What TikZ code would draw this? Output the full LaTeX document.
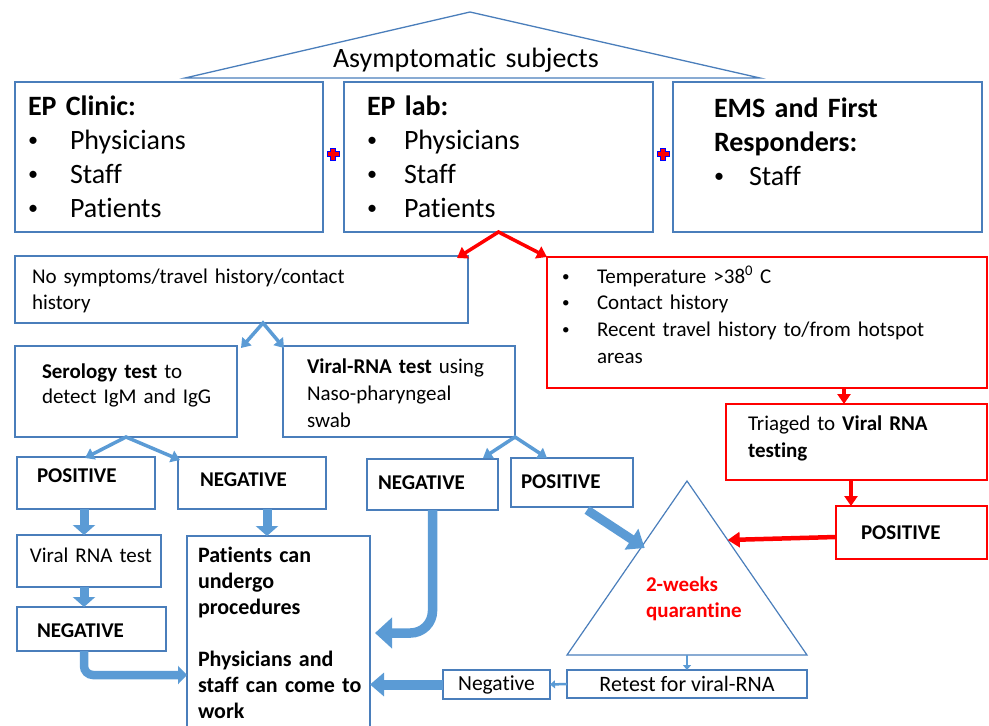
\documentclass[tikz,border=0pt]{standalone}
\usepackage{fontspec}
\setmainfont{Carlito}[Ligatures=NoCommon]
\usetikzlibrary{arrows.meta,calc}
\definecolor{boxblue}{RGB}{74,126,187}
\definecolor{arrblue}{RGB}{91,155,213}
\definecolor{myred}{RGB}{255,0,0}
\newcommand{\mybul}{\raisebox{0.09em}{\scalebox{0.72}{•}}}
\hyphenpenalty=10000
\exhyphenpenalty=10000
\begin{document}
\begin{tikzpicture}[x=1pt,y=-1pt,
  box/.style={draw=boxblue, line width=1.3pt, inner sep=0pt, outer sep=0pt, anchor=north west},
  rbox/.style={draw=myred, line width=1.3pt, inner sep=0pt, outer sep=0pt, anchor=north west},
  txt/.style={anchor=base west, inner sep=0pt, outer sep=0pt, align=left, text width=#1},
  txt/.default=440pt,
  big/.style={font=\fontsize{28}{34}\selectfont},
  mid/.style={font=\fontsize{21}{26.5}\selectfont},
  midb/.style={font=\fontsize{21}{26}\selectfont\bfseries},
  redarr/.style={draw=myred, line width=3.5pt, -{Triangle[width=13pt,length=10pt]}},
  bluearr/.style={draw=arrblue, line width=3.5pt},
  fatarr/.style={draw=arrblue, line width=9pt, -{Triangle[width=22pt,length=10pt]}},
  thinarr/.style={draw=arrblue, line width=2.5pt, -{Triangle[width=8pt,length=5pt]}}
]
\useasboundingbox (0,0) rectangle (989,726);

% ---------- top house ----------
\coordinate (hL) at (185,78);
\coordinate (hA) at (470,12);
\coordinate (hR) at (760,78);
\draw[boxblue, line width=1.3pt, line join=miter] (hL) -- (hA) -- (hR) -- cycle;
\node[txt, big] (asym) at (333,67) {Asymptomatic subjects};

% ---------- top boxes ----------
\node[box, minimum width=308pt, minimum height=150pt] (b1) at (15,82) {};
\node[box, minimum width=309pt, minimum height=150pt] (b2) at (344,82) {};
\node[box, minimum width=309pt, minimum height=150pt] (b3) at (673,82) {};

\node[txt, big] (t1) at (28,115) {\textbf{EP Clinic:}\\
  \makebox[42pt][l]{\mybul}Physicians\\
  \makebox[42pt][l]{\mybul}Staff\\
  \makebox[42pt][l]{\mybul}Patients};
\node[txt, big] (t2) at (367,115) {\textbf{EP lab:}\\
  \makebox[37pt][l]{\mybul}Physicians\\
  \makebox[37pt][l]{\mybul}Staff\\
  \makebox[37pt][l]{\mybul}Patients};
\node[txt, big] (t3) at (714,117) {\textbf{EMS and First}\\
  \textbf{Responders:}\\
  \makebox[35pt][l]{\mybul}Staff};

% plus signs
\foreach \cx/\nm/\ol in {333/p1/0.8pt, 663/p2/0pt}{
  \coordinate (\nm) at (\cx,154);
  \filldraw[fill=myred, draw=blue, line width=\ol] (\nm) ++(-2.3,-6) -- ++(4.6,0) -- ++(0,3.7) -- ++(3.7,0)
    -- ++(0,4.6) -- ++(-3.7,0) -- ++(0,3.7) -- ++(-4.6,0) -- ++(0,-3.7) -- ++(-3.7,0)
    -- ++(0,-4.6) -- ++(3.7,0) -- cycle;
}

% ---------- second row ----------
\node[box, minimum width=453pt, minimum height=67pt] (ns) at (15,256) {};
\node[txt, mid] (tns) at (32,283) {No symptoms/travel history/contact\\history};

\node[rbox, minimum width=440pt, minimum height=131pt] (rb) at (547,257) {};
\node[txt, font=\fontsize{21}{26.7}\selectfont] (trb) at (562,283) {%
  \makebox[35pt][l]{\mybul}Temperature >38\textsuperscript{0} C\\
  \makebox[35pt][l]{\mybul}Contact history\\
  \makebox[35pt][l]{\mybul}Recent travel history to/from hotspot\\
  \makebox[35pt][l]{}areas};

% ---------- third row ----------
\node[box, minimum width=222pt, minimum height=91pt] (ser) at (15,346) {};
\node[txt, font=\fontsize{21}{25.5}\selectfont] (tser) at (42,378) {\textbf{Serology test} to\\detect IgM and IgG};
\node[box, minimum width=232pt, minimum height=91pt] (vir) at (283,346) {};
\node[txt, font=\fontsize{21}{27}\selectfont] (tvir) at (307,373) {\textbf{Viral-RNA test} using\\Naso-pharyngeal\\swab};

\node[rbox, minimum width=261pt, minimum height=76pt] (triage) at (726,404) {};
\node[txt, font=\fontsize{21}{27}\selectfont] (ttri) at (748,430) {Triaged to \textbf{Viral RNA}\\\textbf{testing}};

% ---------- result row ----------
\node[box, minimum width=138pt, minimum height=52pt] (pos1) at (17,457) {};
\node[txt, midb] (tpos1) at (37,482) {POSITIVE};
\node[box, minimum width=148pt, minimum height=52pt] (neg1) at (178,457) {};
\node[txt, midb] (tneg1) at (200,486) {NEGATIVE};
\node[box, minimum width=131pt, minimum height=51pt] (neg2) at (367,459) {};
\node[txt, midb] (tneg2) at (378,489) {NEGATIVE};
\node[box, minimum width=122pt, minimum height=49pt] (pos2) at (511,458) {};
\node[txt, midb] (tpos2) at (521,488) {POSITIVE};

\node[rbox, minimum width=151pt, minimum height=53pt] (posr) at (836,506) {};
\node[txt, midb] (tposr) at (861,539) {POSITIVE};

\node[box, minimum width=144pt, minimum height=52pt] (vrt) at (17,535) {};
\node[txt, mid] (tvrt) at (30,562) {Viral RNA test};
\node[box, minimum width=149pt, minimum height=44pt] (neg3) at (17,607) {};
\node[txt, midb] (tneg3) at (37,637) {NEGATIVE};

% big outcome box (runs off the bottom)
\node[inner sep=0pt, outer sep=0pt, anchor=north west, minimum width=183pt, minimum height=190pt] (big) at (187,536) {};
\draw[boxblue, line width=1.3pt] (big.south west) -- (big.north west) -- (big.north east) -- (big.south east);
\node[txt=172pt, font=\fontsize{22}{26}\selectfont\bfseries] (tbig) at (198,562) {Patients can\\undergo\\procedures\\[26pt]Physicians and\\staff can come to\\work};

% quarantine triangle
\coordinate (qA) at (687,481);
\coordinate (qL) at (567,655);
\coordinate (qR) at (807,655);
\coordinate (qB) at (687,655);
\draw[boxblue, line width=1.2pt, line join=miter] (qA) -- (qR) -- (qL) -- cycle;
\node[txt, font=\fontsize{21}{26}\selectfont\bfseries, text=myred] (tq) at (646,591) {2-weeks\\quarantine};

\node[box, minimum width=240pt, minimum height=28pt] (ret) at (567,670) {};
\node[inner sep=0pt, font=\fontsize{22}{26}\selectfont] (tret) at (ret.center) {Retest for viral-RNA};
\node[box, minimum width=107pt, minimum height=29pt] (negb) at (443,670) {};
\node[inner sep=0pt, font=\fontsize{21.5}{26}\selectfont] (tnegb) at (negb.center) {Negative};

% ---------- connectors ----------
\draw[redarr, {Triangle[width=13pt,length=10pt]}-{Triangle[width=13pt,length=10pt]}, line join=miter]
  ($(ns.north east)+(-11,2)$) -- (b2.south) -- (rb.north west);
\draw[bluearr, {Triangle[width=12pt,length=9pt]}-{Triangle[width=12pt,length=9pt]}, line join=miter]
  ($(ser.north east)+(4,2)$) -- ($(ns.south west)+(248,0)$) -- ($(vir.north west)+(1,2)$);
\draw[bluearr, {Triangle[width=12pt,length=9pt]}-{Triangle[width=12pt,length=9pt]}, line join=miter]
  ($(pos1.north)+(-1,1)$) -- (ser.south) -- ($(neg1.north west)+(2,3)$);
\draw[bluearr, {Triangle[width=12pt,length=9pt]}-{Triangle[width=12pt,length=9pt]}, line join=miter]
  ($(neg2.north east)+(-15,-1)$) -- (vir.south east) -- ($(pos2.north west)+(36,0)$);

\draw[fatarr] ($(pos1.south)+(-2,0)$) -- ($(vrt.north)+(-5,0)$);
\draw[fatarr] ($(neg1.south)+(15,0)$) -- ($(big.north west)+(80,0)$);
\draw[fatarr] ($(vrt.south)+(-5,0)$) -- ($(neg3.north)+(-7.5,0)$);
\draw[draw=arrblue, line width=8.5pt, rounded corners=9pt, -{Triangle[width=18pt,length=9pt]}]
  ($(neg3.south)+(-7.5,0)$) |- ($(big.north west)+(0,139)$);
\draw[draw=arrblue, line width=9.5pt, rounded corners=22pt, -{Triangle[width=30pt,length=17pt]}]
  (neg2.south) |- ($(big.east)+(5,2)$);
\draw[draw=arrblue, line width=10pt, -{Triangle[width=23pt,length=14pt]}]
  (negb.west) -- (negb.west -| big.east);
\draw[thinarr] (ret.west) -- (negb.east);
\draw[thinarr] (qB) -- (ret.north);
\draw[draw=arrblue, line width=9pt, -{Triangle[width=24pt,length=16pt]}]
  ($(pos2.south west)+(76,3)$) -- ($(qA)!0.385!(qL)+(4,0)$);

\draw[redarr] ($(rb.south west)+(297,0)$) -- ($(triage.north west)+(118,0)$);
\draw[redarr] ($(triage.south west)+(125,0)$) -- ($(posr.north west)+(15,0)$);
\draw[redarr, line width=4.5pt, -{Triangle[width=15pt,length=12pt]}] ($(posr.west)+(0,4.5)$) -- ($(qA)!0.339!(qR)$);
\end{tikzpicture}
\end{document}
